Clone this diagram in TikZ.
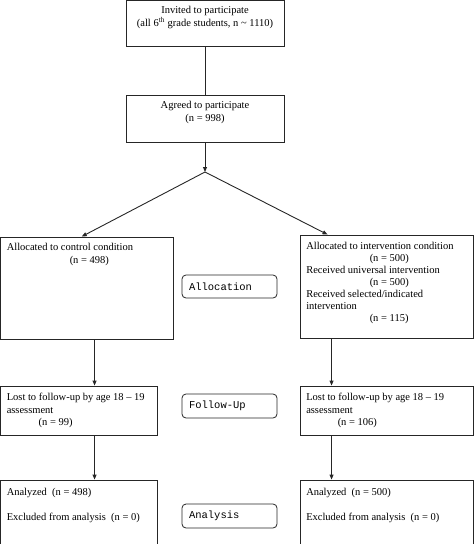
\documentclass[tikz,border=0pt]{standalone}
\usepackage{fontspec}
\setmainfont{Liberation Serif}
\setmonofont{Liberation Mono}
\usetikzlibrary{positioning,arrows.meta}

\begin{document}
\begin{tikzpicture}[x=1pt, y=-1pt,
    box/.style={draw=black!85, line width=0.9pt, inner sep=0pt},
    txt/.style={inner sep=0pt, align=left, font=\fontsize{10.5}{12.5}\selectfont},
    ctxt/.style={inner sep=0pt, align=center, font=\fontsize{10.5}{13}\selectfont},
    stage/.style={draw=black!85, line width=0.8pt, rounded corners=4pt, inner xsep=7pt, inner ysep=0pt,
        text width=81pt, align=left, font=\ttfamily\fontsize{10.5}{12}\selectfont},
    arr/.style={-{Triangle[length=5pt,width=4pt]}, line width=0.9pt, black!85},
    link/.style={line width=0.9pt, black!85}]

    \useasboundingbox (0,0) rectangle (474,544);

    % enrolment
    \node[box, minimum width=158pt, minimum height=45.5pt] (invite) at (205,23.25) {};
    \node[ctxt, below=6pt of invite.north] (invitetxt) {Invited to participate\\(all 6\textsuperscript{th} grade students, n \textasciitilde{} 1110)};

    \node[box, minimum width=158pt, minimum height=47pt] (agree) at (205,118.5) {};
    \node[ctxt, below=6.5pt of agree.north] (agreetxt) {Agreed to participate\\(n = 998)};

    \coordinate (split) at (205,172);

    % allocation
    \node[box, minimum width=172.5pt, minimum height=102pt] (ctrl) at (86.75,288) {};
    \node[txt, below right=6.5pt and 6.5pt of ctrl.north west, font=\fontsize{10.5}{13}\selectfont] (ctrltxt)
        {Allocated to control condition\\\hspace*{63pt}(n = 498)};

    \node[box, minimum width=173pt, minimum height=103pt] (intv) at (386.5,286.5) {};
    \node[txt, below right=7.5pt and 6.5pt of intv.north west, font=\fontsize{10.5}{12}\selectfont] (intvtxt)
        {Allocated to intervention condition\\\hspace*{63.5pt}(n = 500)\\Received universal intervention\\
         \hspace*{63.5pt}(n = 500)\\Received selected/indicated\\intervention\\\hspace*{63.5pt}(n = 115)};

    \node[stage, minimum height=23pt] (alloc) at (229.5,286.5) {Allocation};

    % follow-up
    \node[box, minimum width=156.5pt, minimum height=49pt] (lostc) at (78.75,410.5) {};
    \node[txt, below right=7.5pt and 6.5pt of lostc.north west] (lostctxt)
        {Lost to follow-up by age 18 -- 19\\assessment\\\hspace*{32pt}(n = 99)};

    \node[box, minimum width=173pt, minimum height=49pt] (losti) at (386.5,410.5) {};
    \node[txt, below right=7.5pt and 6.5pt of losti.north west] (lostitxt)
        {Lost to follow-up by age 18 -- 19\\assessment\\\hspace*{31.5pt}(n = 106)};

    \node[stage, minimum height=24pt] (follow) at (229.5,406) {Follow-Up};

    % analysis
    \node[box, minimum width=156.5pt, minimum height=70pt] (anac) at (78.75,515) {};
    \node[txt, below right=8.5pt and 6.5pt of anac.north west] (anactxt)
        {Analyzed\ \ (n = 498)\\[12.5pt]Excluded from analysis\ \ (n = 0)};

    \node[box, minimum width=173pt, minimum height=70pt] (anai) at (386.5,515) {};
    \node[txt, below right=8.5pt and 6.5pt of anai.north west] (anaitxt)
        {Analyzed\ \ (n = 500)\\[12.5pt]Excluded from analysis\ \ (n = 0)};

    \node[stage, minimum height=24pt] (analysis) at (229.5,516) {Analysis};

    \draw[link] (invite) -- (agree);
    \draw[arr] (agree) -- (split);
    \draw[arr] (split) -- ([xshift=-5pt]ctrl.north);
    \draw[arr] (split) -- ([xshift=28pt]intv.north west);

    \draw[arr] ([xshift=94.5pt]ctrl.south west) -- ([xshift=94.5pt]lostc.north west);
    \draw[arr] ([xshift=94.5pt]lostc.south west) -- ([xshift=94.5pt]anac.north west);
    \draw[arr] ([xshift=32pt]intv.south west) -- ([xshift=32pt]losti.north west);
    \draw[arr] ([xshift=32pt]losti.south west) -- ([xshift=32pt]anai.north west);
\end{tikzpicture}
\end{document}
